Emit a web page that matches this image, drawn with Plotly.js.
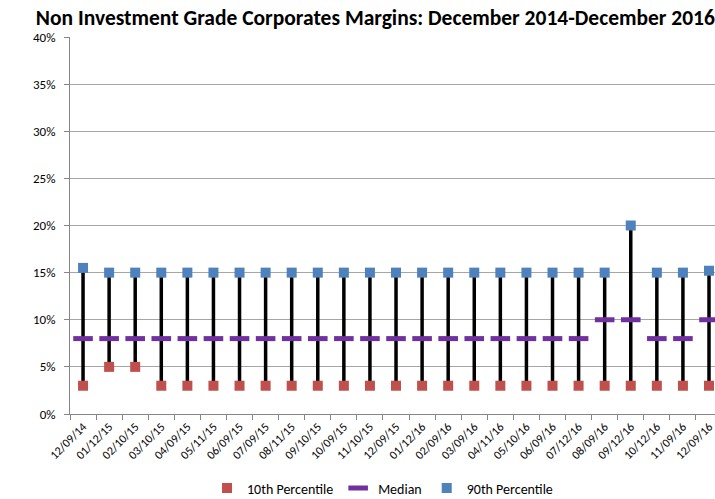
<!DOCTYPE html>
<html><head><meta charset="utf-8">
<script src="https://cdn.plot.ly/plotly-3.0.1.min.js"></script>
<style>html,body{margin:0;padding:0;background:#fff}#chart{width:715px;height:499px}</style>
</head><body><div id="chart"></div>
<script>
const dates = ["12/09/14","01/12/15","02/10/15","03/10/15","04/09/15","05/11/15","06/09/15","07/09/15","08/11/15","09/10/15","10/09/15","11/10/15","12/09/15","01/12/16","02/09/16","03/09/16","04/11/16","05/10/16","06/09/16","07/12/16","08/09/16","09/12/16","10/12/16","11/09/16","12/09/16"];
const p10 = [3,5,5,3,3,3,3,3,3,3,3,3,3,3,3,3,3,3,3,3,3,3,3,3,3];
const median = [8,8,8,8,8,8,8,8,8,8,8,8,8,8,8,8,8,8,8,8,10,10,8,8,10];
const p90 = [15.5,15,15,15,15,15,15,15,15,15,15,15,15,15,15,15,15,15,15,15,15,20,15,15,15.2];

const lx = [], ly = [];
dates.forEach((d,i)=>{ lx.push(d,d,null); ly.push(p10[i],p90[i],null); });

const font = "Carlito, Lato, 'Liberation Sans', sans-serif";
const traces = [
  {x: lx, y: ly, mode: 'lines', line:{color:'#000', width:3.5}, showlegend:false, hoverinfo:'skip'},
  {x: dates, y: p10, name: '10th Percentile', mode:'markers', marker:{symbol:'square', size:10, color:'#C0504D'}},
  {x: dates, y: median, name: 'Median', mode:'markers', marker:{symbol:'line-ew', size:14, color:'#7030A0', line:{color:'#7030A0', width:5}}},
  {x: dates, y: p90, name: '90th Percentile', mode:'markers', marker:{symbol:'square', size:10, color:'#4F81BD'}}
];
const layout = {
  width:715, height:499,
  margin:{l:70, r:0, t:37, b:85, autoexpand:false},
  paper_bgcolor:'#fff', plot_bgcolor:'#fff',
  font:{family:font, size:13, color:'#000'},
  title:{text:'<b>Non Investment Grade Corporates Margins: December 2014-December 2016</b>', font:{family:font, size:21.5, color:'#000'}, x:0.525, xanchor:'center', y:0.965, yanchor:'middle'},
  xaxis:{type:'category', range:[-0.5, 24.23], tickson:'boundaries', ticks:'outside', ticklen:5, tickcolor:'#868686', automargin:false,
         showline:true, linecolor:'#868686', linewidth:1, showgrid:false, tickangle:-45, tickfont:{size:12}, fixedrange:true},
  yaxis:{range:[0,40], dtick:5, ticksuffix:'%\u00a0\u00a0', showgrid:true, gridcolor:'#A6A6A6', gridwidth:1, showline:true, linecolor:'#868686', automargin:false,
         ticks:'outside', ticklen:5, tickcolor:'#868686', zeroline:false, tickfont:{size:13}, fixedrange:true},
  legend:{orientation:'h', x:0.535, xref:'container', xanchor:'center', y:-0.155, yref:'paper', yanchor:'top', font:{size:14}, itemwidth:30, tracegroupgap:0},
  showlegend:true
};
Plotly.newPlot('chart', traces, layout, {displayModeBar:false, staticPlot:true});
</script></body></html>
